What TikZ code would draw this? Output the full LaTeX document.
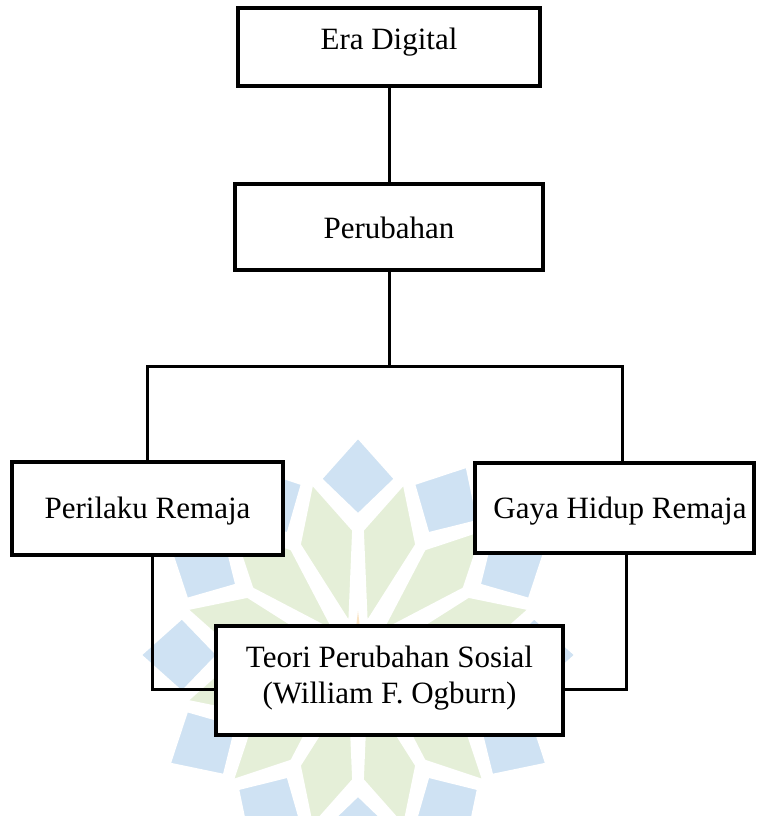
\documentclass[tikz,border=0pt]{standalone}
\usepackage{fontspec}
\setmainfont{Liberation Serif}
\usetikzlibrary{calc}
\definecolor{wmblue}{RGB}{207,226,243}
\definecolor{wmgreen}{RGB}{229,239,216}
\definecolor{wmorange}{RGB}{250,228,196}
\begin{document}
\begin{tikzpicture}[x=1pt,y=-1pt,
  box/.style={draw=black, line width=3.6pt, fill=white, inner sep=0pt,
              font=\fontsize{31pt}{36pt}\selectfont},
  link/.style={draw=black, line width=3pt},
  txt/.style={inner sep=0pt, anchor=base, font=\fontsize{31pt}{36pt}\selectfont},
  bluepiece/.style={fill=wmblue, draw=white, line width=3pt},
  greenpiece/.style={fill=wmgreen, draw=white, line width=3pt}]
\useasboundingbox (0,0) rectangle (756,816);
\fill[white] (0,0) rectangle (756,816);
% faint watermark rosette
\coordinate (wm) at (358,655);
\begin{scope}
\clip (0,0) rectangle (756,816);
\foreach \a in {15,45,...,345} {
  \path[greenpiece] ($(wm)+(\a:32pt)$) -- ($(wm)+(\a+13:125pt)$) -- ($(wm)+(\a:178pt)$) -- ($(wm)+(\a-13:125pt)$) -- cycle;
}
\foreach \a in {0,30,...,330} {
  \path[bluepiece] ($(wm)+(\a:140pt)$) -- ($(wm)+(\a+12:180pt)$) -- ($(wm)+(\a:218pt)$) -- ($(wm)+(\a-12:180pt)$) -- cycle;
}
\path[fill=wmorange] ($(wm)+(90:44pt)$) -- ($(wm)+(100:18pt)$) -- (wm) -- ($(wm)+(80:18pt)$) -- cycle;
\end{scope}
% boxes
\node[box, minimum width=302pt, minimum height=78pt, text height=21pt, text depth=15pt] (era) at (389,47) {Era Digital};
\node[box, minimum width=308pt, minimum height=86pt, text height=22pt, text depth=0pt] (per) at (389,227) {Perubahan};
\node[box, minimum width=271pt, minimum height=93pt, text height=19pt, text depth=0pt] (pr) at (147.5,508.5) {Perilaku Remaja};
\node[box, minimum width=279pt, minimum height=90pt, text height=20pt, text depth=0pt] (gh) at (614.5,508) {\hspace*{11pt}Gaya Hidup Remaja};
\node[box, minimum width=347pt, minimum height=109pt] (teori) at (389.5,680.5) {};
\node[txt] (teori1) at ([yshift=13.5pt]teori.center) {Teori Perubahan Sosial};
\node[txt] (teori2) at ([yshift=-22.5pt]teori.center) {(William F. Ogburn)};
% connectors
\coordinate (jn) at (389,366);
\draw[link] (era.south) -- (per.north);
\draw[link] (per.south) -- (jn);
\draw[link] (pr.north) |- (jn) -| ([xshift=7.5pt]gh.north);
\draw[link] ([xshift=4.5pt]pr.south) |- ([yshift=-8.5pt]teori.west);
\draw[link] ([xshift=12pt]gh.south) |- ([yshift=-8.5pt]teori.east);
\end{tikzpicture}
\end{document}
